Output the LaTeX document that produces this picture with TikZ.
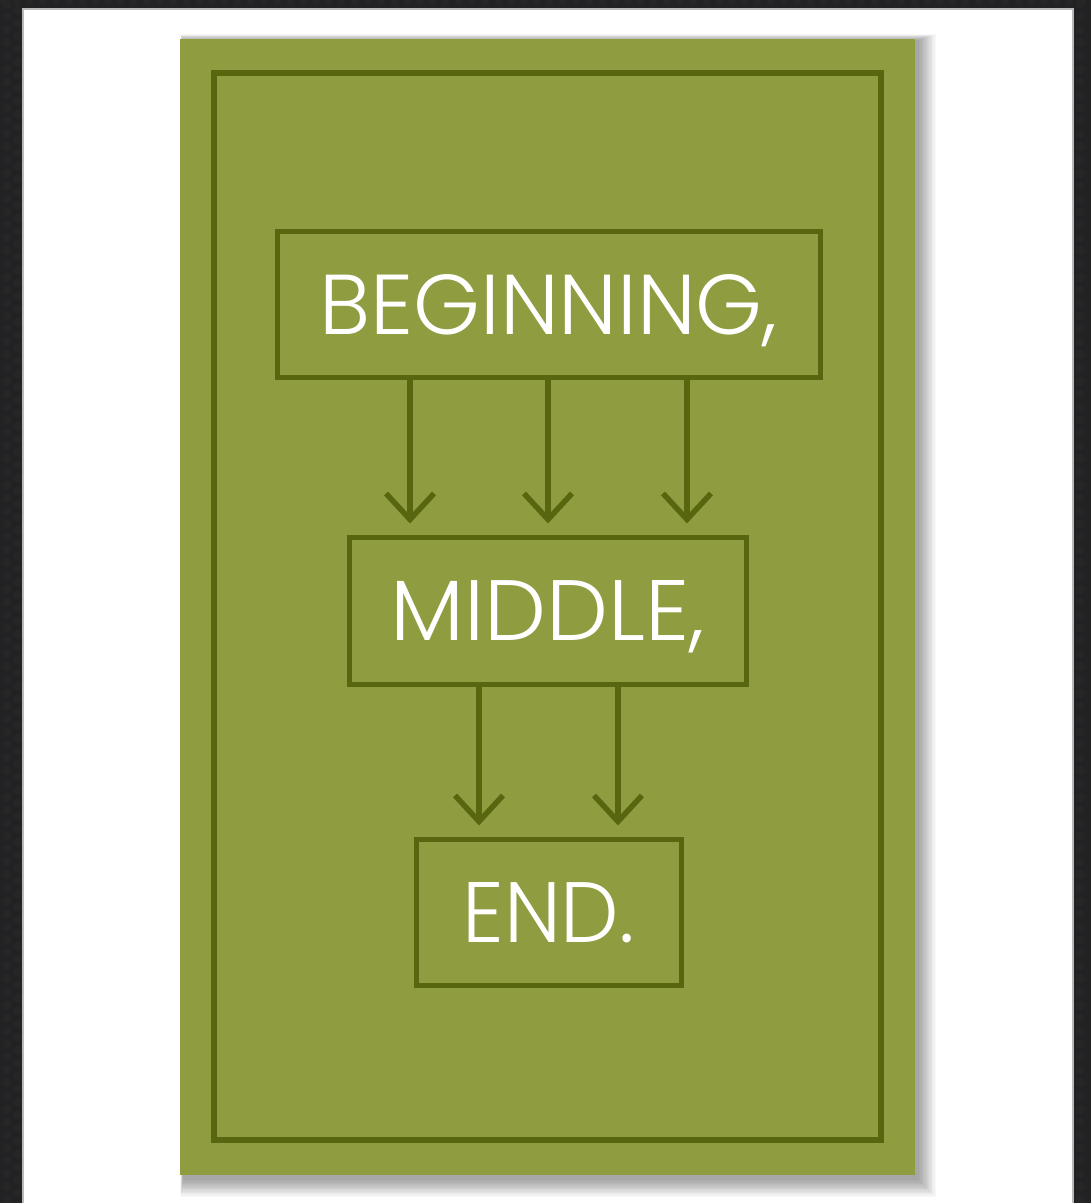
\documentclass[tikz,border=0pt]{standalone}
\usepackage{fontspec}
\setmainfont{Poppins Light}
\usetikzlibrary{arrows.meta}
\definecolor{cardgreen}{RGB}{143,156,64}
\definecolor{darkline}{RGB}{88,102,16}
\definecolor{bgdark}{RGB}{34,34,36}
\tikzset{
  stagebox/.style={draw=darkline, line width=5pt, fill=cardgreen, text=white, inner sep=0pt, text depth=0pt},
  flowarrow/.style={draw=darkline, line width=5.5pt, -{Straight Barb[length=26pt,width=48pt,line width=5.5pt]}, shorten >=11pt},
}
\begin{document}
\begin{tikzpicture}[x=1pt,y=-1pt]
\useasboundingbox (0,0) rectangle (1091,1203);
% dark patterned surround
\fill[bgdark] (0,0) rectangle (1091,1203);
\foreach \r in {0,...,92} {
  \fill[black!85] (7,\r*13+4) circle (4.5pt);
  \fill[black!85] (18,\r*13+10) circle (4.5pt);
  \fill[black!85] (1080,\r*13+4) circle (4.5pt);
}
\foreach \c in {0,...,84} {
  \fill[black!85] (\c*13+4,2) circle (3.5pt);
}
% white panel
\fill[white] (22,8) rectangle (1074,1210);
\draw[gray!55, line width=2pt] (23,1210) -- (23,9) -- (1073,9) -- (1073,1210);
% card shadow (soft, toward lower right)
\foreach \k in {0,...,13} {
  \fill[black, opacity=0.028] (183-\k*0.2,40-\k*0.45) rectangle (919+\k*1.3,1180+\k*1.3);
}
% green card
\fill[cardgreen] (180,39) rectangle (915,1175);
\draw[darkline, line width=5.5pt] (214,73) rectangle (881,1140);
% boxes
\node[stagebox, minimum width=543pt, minimum height=146pt] (b) at (548.5,304)
  {\resizebox{458pt}{60pt}{BEGINNING,}};
\node[stagebox, minimum width=397pt, minimum height=147pt] (m) at (547.5,610.5)
  {\resizebox{314pt}{60pt}{MIDDLE,}};
\node[stagebox, minimum width=265pt, minimum height=146pt] (e) at (548.5,912)
  {\resizebox{172pt}{60pt}{END.}};
% arrows
\foreach \x in {410,548,687} {
  \draw[flowarrow] (b.south -| \x,0) -- (m.north -| \x,0);
}
\foreach \x in {479,618} {
  \draw[flowarrow] (m.south -| \x,0) -- (e.north -| \x,0);
}
\end{tikzpicture}
\end{document}
